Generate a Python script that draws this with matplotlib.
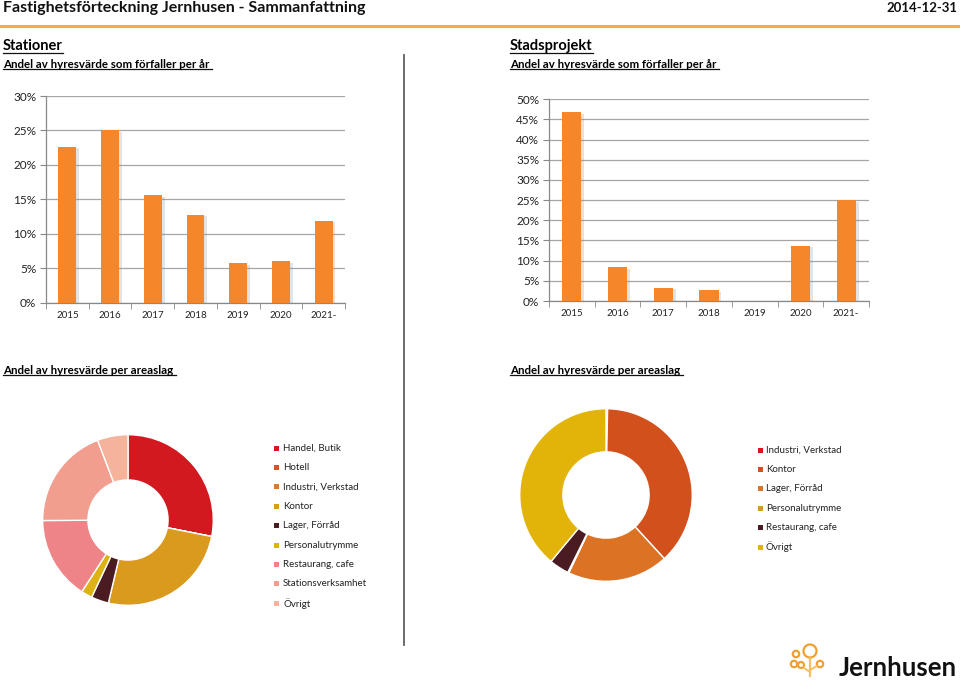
import matplotlib
matplotlib.use("Agg")
import matplotlib.pyplot as plt
import matplotlib.patheffects as pe
from matplotlib.patches import Rectangle, Circle
from matplotlib.lines import Line2D

plt.rcParams['font.family'] = ['Lato', 'DejaVu Sans']

# ---------------- data ----------------
years = ["2015", "2016", "2017", "2018", "2019", "2020", "2021-"]
stationer_pct = [22.6, 25.0, 15.6, 12.8, 5.7, 6.0, 11.9]
stadsprojekt_pct = [46.8, 8.4, 3.2, 2.65, 0.0, 13.7, 25.0]

left_labels = ["Handel, Butik", "Hotell", "Industri, Verkstad", "Kontor", "Lager, Förråd",
               "Personalutrymme", "Restaurang, cafe", "Stationsverksamhet", "Övrigt"]
left_values = [28.1, 0.0, 0.0, 25.6, 3.3, 2.1, 15.8, 19.3, 5.8]
left_colors = ["#D2191F", "#D9532A", "#DB7A2C", "#DA9A1E", "#4A1C22",
               "#DDB313", "#EE8487", "#F19E8E", "#F4B39A"]

right_labels = ["Industri, Verkstad", "Kontor", "Lager, Förråd", "Personalutrymme",
                "Restaurang, cafe", "Övrigt"]
right_values = [0.3, 37.9, 18.9, 0.2, 3.7, 39.0]
right_colors = ["#D2191F", "#D2501C", "#DC7224", "#DA9A1E", "#4A1C22", "#E2B40A"]

W, H = 960, 685
fig = plt.figure(figsize=(W / 100, H / 100), dpi=100)

# overlay axes in pixel coordinates for decorations
ov = fig.add_axes([0, 0, 1, 1])
ov.set_xlim(0, W)
ov.set_ylim(H, 0)
ov.axis('off')
ov.patch.set_alpha(0)


def ax_px(x0, y0, x1, y1):
    return fig.add_axes([x0 / W, 1 - y1 / H, (x1 - x0) / W, (y1 - y0) / H])


def ftext(x, y, s, **kw):
    return fig.text(x / W, 1 - y / H, s, **kw)


# ---------------- header ----------------
ftext(3, 8, "Fastighetsförteckning Jernhusen - Sammanfattning", fontsize=11.5,
      fontweight='bold', va='center', ha='left', color='#111111')
ftext(957, 8, "2014-12-31", fontsize=9.5, fontweight='bold', va='center', ha='right',
      color='#111111')
ov.add_line(Line2D([0, W], [26, 26], color='#F2AE45', lw=2.2))
ov.add_line(Line2D([404, 404], [55, 645], color='#606060', lw=1.3))

underlined = []
underlined.append(ftext(3, 46, "Stationer", fontsize=10.5, fontweight='bold', va='center'))
underlined.append(ftext(3, 64, "Andel av hyresvärde som förfaller per år ", fontsize=8.3,
                        fontweight='bold', va='center'))
underlined.append(ftext(510, 46, "Stadsprojekt", fontsize=10.5, fontweight='bold', va='center'))
underlined.append(ftext(510, 64, "Andel av hyresvärde som förfaller per år ", fontsize=8.3,
                        fontweight='bold', va='center'))
underlined.append(ftext(3, 370, "Andel av hyresvärde per areaslag ", fontsize=8.3,
                        fontweight='bold', va='center'))
underlined.append(ftext(510, 370, "Andel av hyresvärde per areaslag ", fontsize=8.3,
                        fontweight='bold', va='center'))


# ---------------- bar charts ----------------
def bar_chart(ax, vals, ymax):
    x = list(range(len(years)))
    ax.bar(x, vals, width=0.42, color='#F5862A', zorder=3,
           path_effects=[pe.SimplePatchShadow(offset=(2, -1), shadow_rgbFace='#909090', alpha=0.25),
                         pe.Normal()])
    ax.set_xlim(-0.5, len(years) - 0.5)
    ax.set_ylim(0, ymax)
    ax.set_yticks(range(0, ymax + 1, 5))
    ax.set_yticklabels([f"{v}%" for v in range(0, ymax + 1, 5)], fontsize=8.5, color='#222222')
    ax.set_xticks(x)
    ax.set_xticklabels(years, fontsize=7, color='#222222')
    ax.set_xticks([i + 0.5 for i in range(-1, len(years))], minor=True)
    ax.tick_params(axis='x', which='major', length=0, pad=6)
    ax.tick_params(axis='x', which='minor', length=4, color='#888888', direction='out')
    ax.tick_params(axis='y', length=4, color='#888888', direction='out', pad=3)
    ax.grid(axis='y', color='#A6A6A6', lw=0.9, zorder=0)
    for s in ['top', 'right']:
        ax.spines[s].set_visible(False)
    for s in ['left', 'bottom']:
        ax.spines[s].set_color('#888888')
        ax.spines[s].set_linewidth(0.9)
    ax.patch.set_alpha(0)


ax1 = ax_px(46, 96, 345, 302.7)
bar_chart(ax1, stationer_pct, 30)
ax2 = ax_px(549, 99.3, 869, 301)
bar_chart(ax2, stadsprojekt_pct, 50)


# ---------------- donuts ----------------
def donut(ax, vals, colors, width):
    ax.pie(vals, colors=colors, startangle=90, counterclock=False, radius=1,
           wedgeprops=dict(width=width, edgecolor='white', linewidth=1.0))
    ax.set_xlim(-1.02, 1.02)
    ax.set_ylim(-1.02, 1.02)
    ax.set_aspect('equal')
    ax.axis('off')


axd1 = ax_px(41, 433, 215, 607)
donut(axd1, left_values, left_colors, 0.53)
axd2 = ax_px(518, 407, 694, 583)
donut(axd2, right_values, right_colors, 0.5)


def legend(x_marker, x_text, y0, step, labels, colors):
    for i, (lab, col) in enumerate(zip(labels, colors)):
        y = y0 + i * step
        ov.add_patch(Rectangle((x_marker - 2.5, y - 2.5), 5, 5, facecolor=col, edgecolor='none'))
        ftext(x_text, y, lab, fontsize=7, va='center', ha='left', color='#222222')


legend(276, 283, 448, 19.4, left_labels, left_colors)
legend(760, 766, 450, 19.4, right_labels, right_colors)

# ---------------- logo ----------------
logo_c = '#F0A030'
for (cx, cy, r) in [(810, 651, 6.5), (796, 654, 3.2), (794, 664, 3.2), (801, 665, 3.0), (820, 664, 3.2)]:
    ov.add_patch(Circle((cx, cy), r, facecolor='none', edgecolor=logo_c, lw=1.6))
ov.add_line(Line2D([810, 810], [657.5, 676], color='#F5C060', lw=1.6))
ov.add_line(Line2D([804, 810], [668, 672], color='#F5C060', lw=1.4))
ov.add_line(Line2D([817, 810], [666, 670], color='#F5C060', lw=1.4))
ftext(957, 668, "Jernhusen", fontsize=18.5, fontweight='bold', va='center', ha='right',
      color='#111111')

# ---------------- underlines ----------------
fig.canvas.draw()
r = fig.canvas.get_renderer()
for t in underlined:
    bb = t.get_window_extent(r)
    y = H - bb.y0 - 0.5
    ov.add_line(Line2D([bb.x0, bb.x1], [y, y], color='#111111', lw=0.9))

fig.savefig("out.png", dpi=100)
